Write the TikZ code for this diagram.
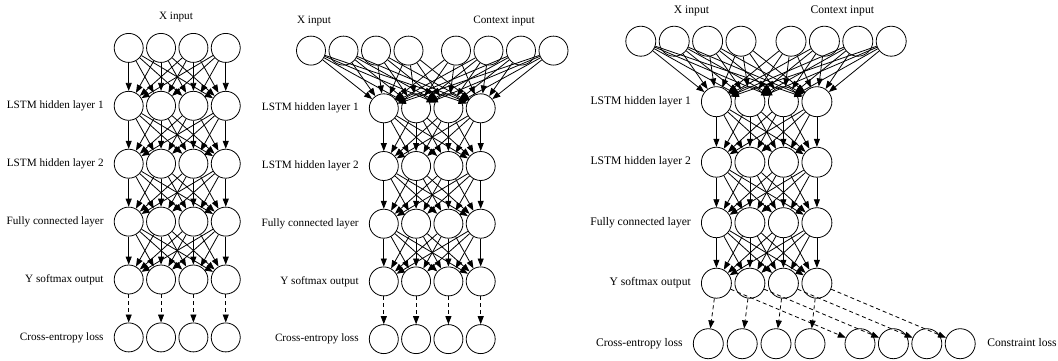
\documentclass[tikz,border=0pt]{standalone}
\usepackage{fontspec}
\setmainfont{Liberation Serif}
\usetikzlibrary{arrows.meta}
\tikzset{
  neuron/.style={circle, draw, line width=0.8pt, minimum size=29pt, inner sep=0pt},
  neuronb/.style={neuron, minimum size=30pt},
  lbl/.style={inner sep=0pt, text height=7.6pt, text depth=2.4pt, font=\fontsize{11.2}{13}\selectfont},
  lblb/.style={inner sep=0pt, text height=7.9pt, text depth=2.5pt, font=\fontsize{11.6}{13.5}\selectfont},
  conn/.style={line width=0.8pt, -{Triangle[length=8pt,width=6pt]}},
  dconn/.style={conn, dash pattern=on 4pt off 3pt},
}
\begin{document}
\begin{tikzpicture}[x=1pt, y=-1pt]
\useasboundingbox (0,0) rectangle (1058,360);

% ---------------- Panel 1 ----------------
\foreach \r in {0,...,5}
  \foreach \c in {1,...,4}
    \node[neuron] (a\r-\c) at ({128.7+32.35*(\c-1)}, {47.9+57.9*\r}) {};
\foreach \r/\s in {0/1,1/2,2/3,3/4}
  \foreach \i in {1,...,4}
    \foreach \j in {1,...,4}
      \draw[conn] (a\r-\i) -- (a\s-\j);
\foreach \i in {1,...,4}
  \draw[dconn] (a4-\i) -- (a5-\i);
\node[lbl] (ax) at (176,17.3) {X input};
\node[lbl, anchor=east] (al1) at ([xshift=-10pt]a1-1.west) {LSTM hidden layer 1};
\node[lbl, anchor=east] (al2) at ([xshift=-10pt]a2-1.west) {LSTM hidden layer 2};
\node[lbl, anchor=east] (al3) at ([xshift=-10pt]a3-1.west) {Fully connected layer};
\node[lbl, anchor=east] (al4) at ([xshift=-10pt]a4-1.west) {Y softmax output};
\node[lbl, anchor=east] (al5) at ([xshift=-10pt]a5-1.west) {Cross-entropy loss};

% ---------------- Panel 2 ----------------
\foreach \c/\x in {1/311,2/343.5,3/376,4/408.5,5/456,6/488.5,7/521,8/553.5}
  \node[neuron] (b0-\c) at (\x,50.6) {};
\foreach \r in {1,...,5}
  \foreach \c in {1,...,4}
    \node[neuron] (b\r-\c) at ({383.8+32.3*(\c-1)}, {50.6+57.7*\r}) {};
\foreach \i in {1,...,8}
  \foreach \j in {1,...,4}
    \draw[conn] (b0-\i) -- (b1-\j);
\foreach \r/\s in {1/2,2/3,3/4}
  \foreach \i in {1,...,4}
    \foreach \j in {1,...,4}
      \draw[conn] (b\r-\i) -- (b\s-\j);
\foreach \i in {1,...,4}
  \draw[dconn] (b4-\i) -- (b5-\i);
\node[lbl] (bx) at (314,20.7) {X input};
\node[lbl] (bc) at (504,20.7) {Context input};
\node[lbl, anchor=east] (bl1) at ([xshift=-10pt]b1-1.west) {LSTM hidden layer 1};
\node[lbl, anchor=east] (bl2) at ([xshift=-10pt]b2-1.west) {LSTM hidden layer 2};
\node[lbl, anchor=east] (bl3) at ([xshift=-10pt]b3-1.west) {Fully connected layer};
\node[lbl, anchor=east] (bl4) at ([xshift=-10pt]b4-1.west) {Y softmax output};
\node[lbl, anchor=east] (bl5) at ([xshift=-10pt]b5-1.west) {Cross-entropy loss};

% ---------------- Panel 3 ----------------
\foreach \c/\x in {1/640.8,2/674.2,3/707.6,4/741,5/791,6/824.4,7/857.8,8/891.2}
  \node[neuronb] (d0-\c) at (\x,41.2) {};
\foreach \r in {1,...,4}
  \foreach \c in {1,...,4}
    \node[neuronb] (d\r-\c) at ({716.4+33.5*(\c-1)}, {41.2+60.5*\r}) {};
\foreach \c/\x in {1/708.3,2/742.2,3/776,4/810}
  \node[neuronb] (d5-\c) at (\x,343.7) {};
\foreach \c/\x in {1/860,2/893.4,3/926.8,4/960.2}
  \node[neuronb] (e-\c) at (\x,343.7) {};
\foreach \i in {1,...,8}
  \foreach \j in {1,...,4}
    \draw[conn] (d0-\i) -- (d1-\j);
\foreach \r/\s in {1/2,2/3,3/4}
  \foreach \i in {1,...,4}
    \foreach \j in {1,...,4}
      \draw[conn] (d\r-\i) -- (d\s-\j);
\foreach \i in {1,...,4} {
  \draw[dconn] (d4-\i) -- (d5-\i);
  \draw[dconn] (d4-\i) -- (e-\i);
}
\node[lblb] (dx) at (691.5,10.5) {X input};
\node[lblb] (dc) at (842.3,10.5) {Context input};
\node[lblb, anchor=east] (dl1) at ([xshift=-10pt]d1-1.west) {LSTM hidden layer 1};
\node[lblb, anchor=east] (dl2) at ([xshift=-10pt]d2-1.west) {LSTM hidden layer 2};
\node[lblb, anchor=east] (dl3) at ([xshift=-10pt]d3-1.west) {Fully connected layer};
\node[lblb, anchor=east] (dl4) at ([xshift=-10pt]d4-1.west) {Y softmax output};
\node[lblb, anchor=east] (dl5) at ([xshift=-10pt]d5-1.west) {Cross-entropy loss};
\node[lblb, anchor=west] (dl6) at ([xshift=11.5pt]e-4.east) {Constraint loss};
\end{tikzpicture}
\end{document}
